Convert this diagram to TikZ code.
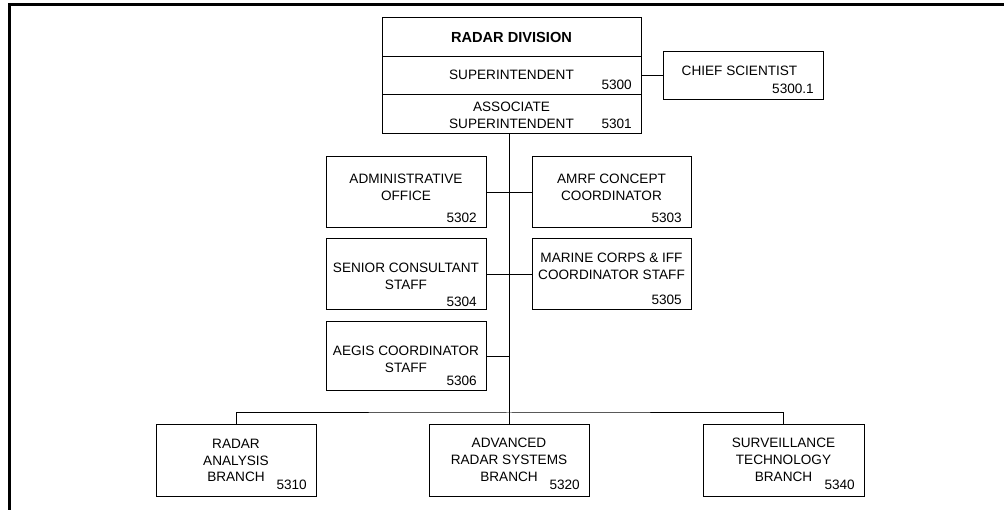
\documentclass[tikz,border=0pt]{standalone}
\usepackage{fontspec}
\setmainfont{Liberation Sans}
\usetikzlibrary{calc}
\tikzset{
  unit/.style={draw=black, line width=1pt, inner sep=0pt, fill=white},
  txt/.style={inner sep=0pt, align=center, font=\fontsize{13.6}{16.7}\selectfont},
  title/.style={inner sep=0pt, font=\fontsize{14.6}{17}\selectfont\bfseries},
  num/.style={inner sep=0pt, anchor=base east, xshift=-9.5pt, yshift=5.5pt, font=\fontsize{13.6}{16}\selectfont},
  link/.style={draw=black, line width=1pt},
  frame/.style={draw=black, line width=3pt}
}
\begin{document}
\begin{tikzpicture}[x=1pt, y=-1pt]
\useasboundingbox (0,0) rectangle (1004,510);
% page frame (left and top edges)
\draw[frame] (9.5,512) -- (9.5,5) -- (1006,5);

% division head, three stacked cells
\node[unit, minimum width=259pt, minimum height=39pt] (rd) at (511.5,37.5) {};
\node[unit, minimum width=259pt, minimum height=38pt] (sup) at (511.5,76) {};
\node[unit, minimum width=259pt, minimum height=39pt] (assoc) at (511.5,114.5) {};
\node[title] (rdt) at (rd.center) {RADAR DIVISION};
\node[txt] (supt) at ($(sup.center)+(0,-1.5)$) {SUPERINTENDENT};
\node[num] (supn) at (sup.south east) {5300};
\node[txt] (assoct) at ($(assoc.center)+(0,1)$) {ASSOCIATE\\SUPERINTENDENT};
\node[num] (assocn) at (assoc.south east) {5301};

% chief scientist
\node[unit, minimum width=160pt, minimum height=48pt] (chief) at (743,76) {};
\node[txt] (chieft) at ($(chief.center)+(-3.5,-5)$) {CHIEF SCIENTIST};
\node[num, yshift=1.5pt] (chiefn) at (chief.south east) {5300.1};

% staff offices
\node[unit, minimum width=160pt, minimum height=71pt] (admin) at (406,192.5) {};
\node[txt] (admint) at ($(admin.center)+(0,-5)$) {ADMINISTRATIVE\\OFFICE};
\node[num] (adminn) at (admin.south east) {5302};

\node[unit, minimum width=159pt, minimum height=71pt] (amrf) at (611.5,192.5) {};
\node[txt] (amrft) at ($(amrf.center)+(0,-5)$) {AMRF CONCEPT\\COORDINATOR};
\node[num] (amrfn) at (amrf.south east) {5303};

\node[unit, minimum width=160pt, minimum height=71pt] (senior) at (406,274.5) {};
\node[txt] (seniort) at ($(senior.center)+(0,1.5)$) {SENIOR CONSULTANT\\STAFF};
\node[num, yshift=-2pt] (seniorn) at (senior.south east) {5304};

\node[unit, minimum width=159pt, minimum height=71pt] (marine) at (611.5,274.5) {};
\node[txt] (marinet) at ($(marine.center)+(0,-8)$) {MARINE CORPS \& IFF\\COORDINATOR STAFF};
\node[num] (marinen) at (marine.south east) {5305};

\node[unit, minimum width=160pt, minimum height=69pt] (aegis) at (406,356.5) {};
\node[txt] (aegist) at ($(aegis.center)+(0,2.5)$) {AEGIS COORDINATOR\\STAFF};
\node[num] (aegisn) at (aegis.south east) {5306};

% branches
\node[unit, minimum width=160pt, minimum height=72pt] (rab) at (236,460) {};
\node[txt] (rabt) at ($(rab.center)+(0,0.5)$) {RADAR\\ANALYSIS\\BRANCH};
\node[num, yshift=1.5pt] (rabn) at (rab.south east) {5310};

\node[unit, minimum width=160pt, minimum height=72pt] (arsb) at (509,460) {};
\node[txt] (arsbt) at ($(arsb.center)+(0,0)$) {ADVANCED\\RADAR SYSTEMS\\BRANCH};
\node[num, yshift=1.5pt] (arsbn) at (arsb.south east) {5320};

\node[unit, minimum width=161pt, minimum height=72pt] (stb) at (783.5,460) {};
\node[txt] (stbt) at ($(stb.center)+(0,0)$) {SURVEILLANCE\\TECHNOLOGY\\BRANCH};
\node[num, yshift=1.5pt] (stbn) at (stb.south east) {5340};

% connectors
\coordinate (bus) at (509,413);
\coordinate (aegisj) at (509,356.5);
\draw[link] (sup.east) -- (chief.west);
\draw[link] (assoc.south -| arsb.north) -- (arsb.north);
\draw[link] (admin.east) -- (amrf.west);
\draw[link] (senior.east) -- (marine.west);
\draw[link] (aegis.east) -- (aegisj);
\draw[link] (rab.north) |- (bus) -| (stb.north);
\end{tikzpicture}
\end{document}
